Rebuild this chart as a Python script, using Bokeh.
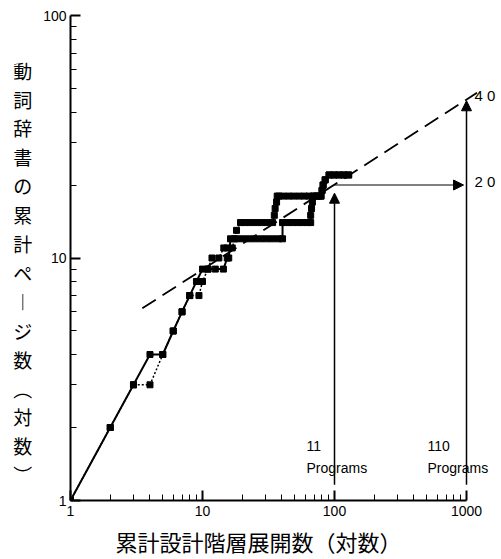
import math
from bokeh.plotting import figure
from bokeh.models import Label, Arrow, NormalHead, FixedTicker
from bokeh.embed import file_html
from bokeh.resources import INLINE

# ---------------- data ----------------
x_solid = [1, 2, 3, 4, 5, 6, 7, 8, 9, 10, 11, 12.5, 14.4, 15.4, 15.8, 16.3, 18.1, 20.1, 22.3,
           24.7, 27.5, 30.5, 33.8, 37.6, 40.4, 40.4, 44, 48, 52.5, 57, 62, 66, 66, 67, 68,
           70, 73, 76, 79, 80.5, 82, 85, 91, 99, 108, 118, 128]
y_solid = [1, 2, 3, 4, 4, 5, 6, 7, 8, 9, 9, 9, 9, 10, 10, 12, 12, 12, 12,
           12, 12, 12, 12, 12, 12, 14, 14, 14, 14, 14, 14, 14, 15, 16, 17,
           18, 18, 18, 18, 19, 20, 21, 22, 22, 22, 22, 22]
x_dotted = [1, 2, 3, 4, 5, 6, 7, 8, 9.4, 10, 11, 11.8, 13.3, 14.5, 15.4, 16.8, 17.5, 18.1,
            19.4, 21, 23, 25.5, 28, 31, 34, 35, 35.5, 36.4, 36.8, 38, 41, 45, 49, 54, 59,
            64, 69, 74, 79, 80.5, 82, 85, 91, 99, 108, 118, 128]
y_dotted = [1, 2, 3, 3, 4, 5, 6, 7, 7, 8, 9, 10, 10, 11, 11, 11, 12, 13,
            14, 14, 14, 14, 14, 14, 14, 15, 16, 17, 18, 18, 18, 18, 18, 18, 18,
            18, 18, 18, 18, 19, 20, 21, 22, 22, 22, 22, 22]
fit_x = [3.5, 1200]
fit_y = [6.2, 48]
x_major = [1, 10, 100, 1000]
y_major = [1, 10, 100]
x_minor = [m * d for d in (1, 10, 100) for m in range(2, 10)]
y_minor = [m * d for d in (1, 10) for m in range(2, 10)]
tick_text = {1: "1", 10: "10", 100: "100", 1000: "1000"}
proj_x = [100, 1000]          # 11 programs -> 110 programs
proj_y = [20, 44.5]           # projected pages
arrow_base = 1.16
arrow_tip_11 = 18.5
arrow_tip_h = 950
prog_labels = [["11", "Programs"], ["110", "Programs"]]
value_labels = ["2 0", "4 0"]
y_title_chars = ["　", "動", "詞", "辞", "書", "の", "累", "計", "ペ", "︱", "ジ", "数",
                 "︵", "対", "数", "︶"]
x_title = "累計設計階層展開数（対数）　　　"

# ---------------- layout ----------------
W, H = 501, 559
FX0, FY0 = 70, 509            # page pixels of frame's left / bottom edge
FTOP = 15
KX = 132.0
BL, BT = FX0, FTOP
BB = H - FY0
FW = W - BL
BR = 0
x_end = 10 ** (FW / KX)

def sx(px):   # page px -> screen units (relative to frame left)
    return px - FX0

def sy(py):   # page py -> screen units (relative to frame bottom, upward)
    return FY0 - py

p = figure(width=W, height=H, x_axis_type="log", y_axis_type="log",
           x_range=(1, x_end), y_range=(1, 100),
           output_backend="svg", toolbar_location=None,
           min_border_left=BL, min_border_right=BR,
           min_border_top=BT, min_border_bottom=BB)
p.outline_line_color = None
p.grid.visible = False

for ax in (p.xaxis[0], p.yaxis[0]):
    ax.axis_line_width = 2
    ax.axis_line_color = "black"
    ax.major_tick_line_width = 2
    ax.major_tick_line_color = "black"
    ax.minor_tick_line_width = 1
    ax.minor_tick_line_color = "black"
    ax.major_tick_in = 10
    ax.major_tick_out = 0
    ax.minor_tick_in = 6
    ax.minor_tick_out = 0
    ax.major_label_text_font = "Liberation Sans"
    ax.major_label_text_font_size = "14px"
    ax.major_label_text_color = "black"
    ax.major_label_overrides = dict(tick_text)
    ax.axis_label_text_font = "Noto Sans CJK JP"
    ax.axis_label_text_font_style = "normal"
    ax.axis_label_text_color = "black"

p.xaxis.ticker = FixedTicker(ticks=x_major, minor_ticks=x_minor)
p.yaxis.ticker = FixedTicker(ticks=y_major, minor_ticks=y_minor)
p.xaxis.bounds = (1, 1000)
p.yaxis.bounds = (1, 100)
p.xaxis.major_label_standoff = 5
p.yaxis.major_label_standoff = 4

p.yaxis.axis_label = "\n".join(y_title_chars)
p.yaxis.axis_label_orientation = "horizontal"
p.yaxis.axis_label_text_font_size = "19px"
p.yaxis.axis_label_text_line_height = 1.07
p.yaxis.axis_label_standoff = 8

p.xaxis.axis_label = x_title
p.xaxis.axis_label_text_font_size = "22px"
p.xaxis.axis_label_standoff = 6

def slabel(px, py, text, font="Liberation Sans", size="14px", align="left", angle=0.0):
    p.add_layout(Label(x=sx(px), y=sy(py), x_units="screen", y_units="screen",
                       text=text, text_font=font, text_font_size=size,
                       text_align=align, text_baseline="middle", angle=angle,
                       text_color="black"))

# ---------------- marks ----------------
p.line(fit_x, fit_y, line_dash="16 8", line_width=1.8, color="black")
p.line(x_solid, y_solid, line_width=2, color="black")
p.line(x_dotted, y_dotted, line_width=1.5, line_dash="2 2", color="black")
p.scatter(x_solid, y_solid, marker="square", size=6, color="black")
p.scatter(x_dotted, y_dotted, marker="square", size=6, color="black")

head = lambda: NormalHead(size=10, fill_color="black", line_color="black")
p.add_layout(Arrow(end=head(), x_start=proj_x[0], y_start=arrow_base,
                   x_end=proj_x[0], y_end=arrow_tip_11, line_width=1.5, line_color="black"))
p.add_layout(Arrow(end=head(), x_start=proj_x[0], y_start=proj_y[0],
                   x_end=arrow_tip_h, y_end=proj_y[0], line_width=1, line_color="black"))
p.add_layout(Arrow(end=head(), x_start=proj_x[1], y_start=arrow_base,
                   x_end=proj_x[1], y_end=proj_y[1], line_width=1.5, line_color="black"))

# program labels
for (l1, l2), lx in zip(prog_labels, (306, 427)):
    slabel(lx, 454, l1)
    slabel(lx, 476, l2)

# value labels next to arrow tips
for txt, vy in zip(value_labels, proj_y):
    py = FY0 - math.log10(vy) * (FY0 - FTOP) / 2.0
    slabel(474, py + 2, txt, size="15px")

open("out.html", "w").write(file_html(p, INLINE))
